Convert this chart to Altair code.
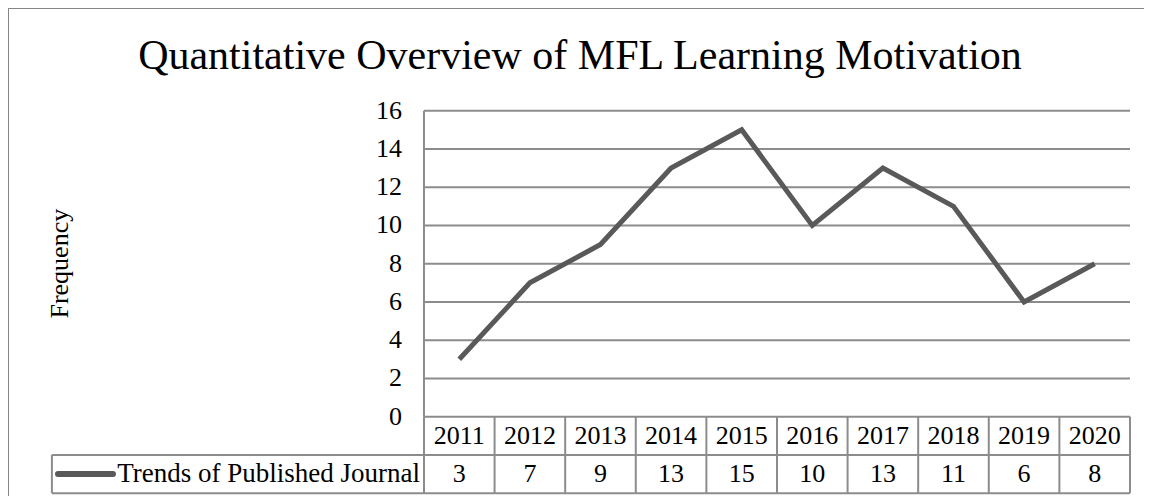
import altair as alt
import pandas as pd

# ---- data ----
years = ["2011", "2012", "2013", "2014", "2015", "2016", "2017", "2018", "2019", "2020"]
counts = [3, 7, 9, 13, 15, 10, 13, 11, 6, 8]
y_ticks = [0, 2, 4, 6, 8, 10, 12, 14, 16]
series_name = "Trends of Published Journal"
y_title = "Frequency"
chart_title = "Quantitative Overview of MFL Learning Motivation"

# ---- layout (column units on x, frequency units on y) ----
W, H = 1130, 488
COL = 70.6
X_DOMAIN = [-5.892, -5.892 + W / COL]
Y_DOMAIN = [-4.147, 21.37]
LEG_LEFT = -5.27
ROW_MID = -2.0
ROW_BOT = -4.0
n = len(years)

FONT = "Liberation Serif"
GRID = "#8c8c8c"
LINE = "#595959"
FRAME = "#868686"

xs = alt.Scale(domain=X_DOMAIN, nice=False, zero=False)
ys = alt.Scale(domain=Y_DOMAIN, nice=False, zero=False)


def X(f):
    return alt.X(f, type="quantitative", scale=xs, axis=None)


def Y(f):
    return alt.Y(f, type="quantitative", scale=ys, axis=None)


line_df = pd.DataFrame({"year": years, "count": counts, "x": [i + 0.5 for i in range(n)]})
tick_df = pd.DataFrame({"v": y_ticks, "x": 0.0, "x2": float(n)})
vlines_df = pd.DataFrame({"x": list(range(n + 1)), "y": 0.0, "y2": ROW_BOT})
hlines_df = pd.DataFrame({"y": [ROW_MID, ROW_BOT], "x": LEG_LEFT, "x2": float(n)})
legleft_df = pd.DataFrame({"x": [LEG_LEFT], "y": [ROW_MID], "y2": [ROW_BOT]})
axisline_df = pd.DataFrame({"x": [0.0], "y": [0.0], "y2": [max(y_ticks)]})
border_df = pd.DataFrame({"x": [X_DOMAIN[0]], "x2": [X_DOMAIN[1] + 0.12], "y": [Y_DOMAIN[0]], "y2": [Y_DOMAIN[1]]})
year_df = pd.DataFrame({"label": years, "x": [i + 0.5 for i in range(n)], "y": (0 + ROW_MID) / 2})
val_df = pd.DataFrame({"label": [str(c) for c in counts], "x": [i + 0.5 for i in range(n)], "y": (ROW_MID + ROW_BOT) / 2})
legtext_df = pd.DataFrame({"label": [series_name], "x": [0.0], "y": [(ROW_MID + ROW_BOT) / 2]})
legline_df = pd.DataFrame({"x": [-5.184], "x2": [-4.405], "y": [(ROW_MID + ROW_BOT) / 2]})
ytitle_df = pd.DataFrame({"label": [y_title], "x": [-5.156], "y": [max(y_ticks) / 2]})
title_df = pd.DataFrame({"label": [chart_title], "x": [2.21], "y": [18.18]})

grid = alt.Chart(tick_df).mark_rule(color=GRID, strokeWidth=2).encode(x=X("x"), x2="x2", y=Y("v"))
axisline = alt.Chart(axisline_df).mark_rule(color=GRID, strokeWidth=2).encode(x=X("x"), y=Y("y"), y2="y2")
vlines = alt.Chart(vlines_df).mark_rule(color=GRID, strokeWidth=2).encode(x=X("x"), y=Y("y"), y2="y2")
hlines = alt.Chart(hlines_df).mark_rule(color=GRID, strokeWidth=2).encode(x=X("x"), x2="x2", y=Y("y"))
legleft = alt.Chart(legleft_df).mark_rule(color=GRID, strokeWidth=2).encode(x=X("x"), y=Y("y"), y2="y2")

border_left = alt.Chart(border_df).mark_rule(color=FRAME, strokeWidth=2).encode(x=X("x"), y=Y("y"), y2="y2")
border_top = alt.Chart(border_df).mark_rule(color=FRAME, strokeWidth=2).encode(x=X("x"), x2="x2", y=Y("y2"))

line = alt.Chart(line_df).mark_line(color=LINE, strokeWidth=5, strokeJoin="miter").encode(
    x=X("x"), y=Y("count"), tooltip=["year", "count"]
)

ytick_text = alt.Chart(tick_df).mark_text(
    font=FONT, fontSize=26, align="right", baseline="middle", dx=-22, color="black"
).encode(x=X("x"), y=Y("v"), text=alt.Text("v:Q"))

year_text = alt.Chart(year_df).mark_text(
    font=FONT, fontSize=26, align="center", baseline="middle", color="black"
).encode(x=X("x"), y=Y("y"), text="label:N")

val_text = alt.Chart(val_df).mark_text(
    font=FONT, fontSize=26, align="center", baseline="middle", color="black"
).encode(x=X("x"), y=Y("y"), text="label:N")

leg_text = alt.Chart(legtext_df).mark_text(
    font=FONT, fontSize=27, align="right", baseline="middle", dx=-4, color="black"
).encode(x=X("x"), y=Y("y"), text="label:N")

leg_line = alt.Chart(legline_df).mark_rule(color=LINE, strokeWidth=6, strokeCap="round").encode(
    x=X("x"), x2="x2", y=Y("y")
)

ytitle = alt.Chart(ytitle_df).mark_text(
    font=FONT, fontSize=26, align="center", baseline="middle", angle=270, color="black"
).encode(x=X("x"), y=Y("y"), text="label:N")

title = alt.Chart(title_df).mark_text(
    font=FONT, fontSize=42, align="center", baseline="alphabetic", color="black"
).encode(x=X("x"), y=Y("y"), text="label:N")

chart = alt.layer(
    border_left, border_top, grid, axisline, vlines, hlines, legleft,
    line, ytick_text, year_text, val_text, leg_text, leg_line, ytitle, title,
).properties(
    width=W,
    height=H,
    autosize="none",
    padding={"left": 0, "top": 0, "right": 6, "bottom": 0},
    background="white",
).configure_view(strokeWidth=0, strokeOpacity=0)

chart.save("out.html", embed_options={"renderer": "svg", "actions": False})
